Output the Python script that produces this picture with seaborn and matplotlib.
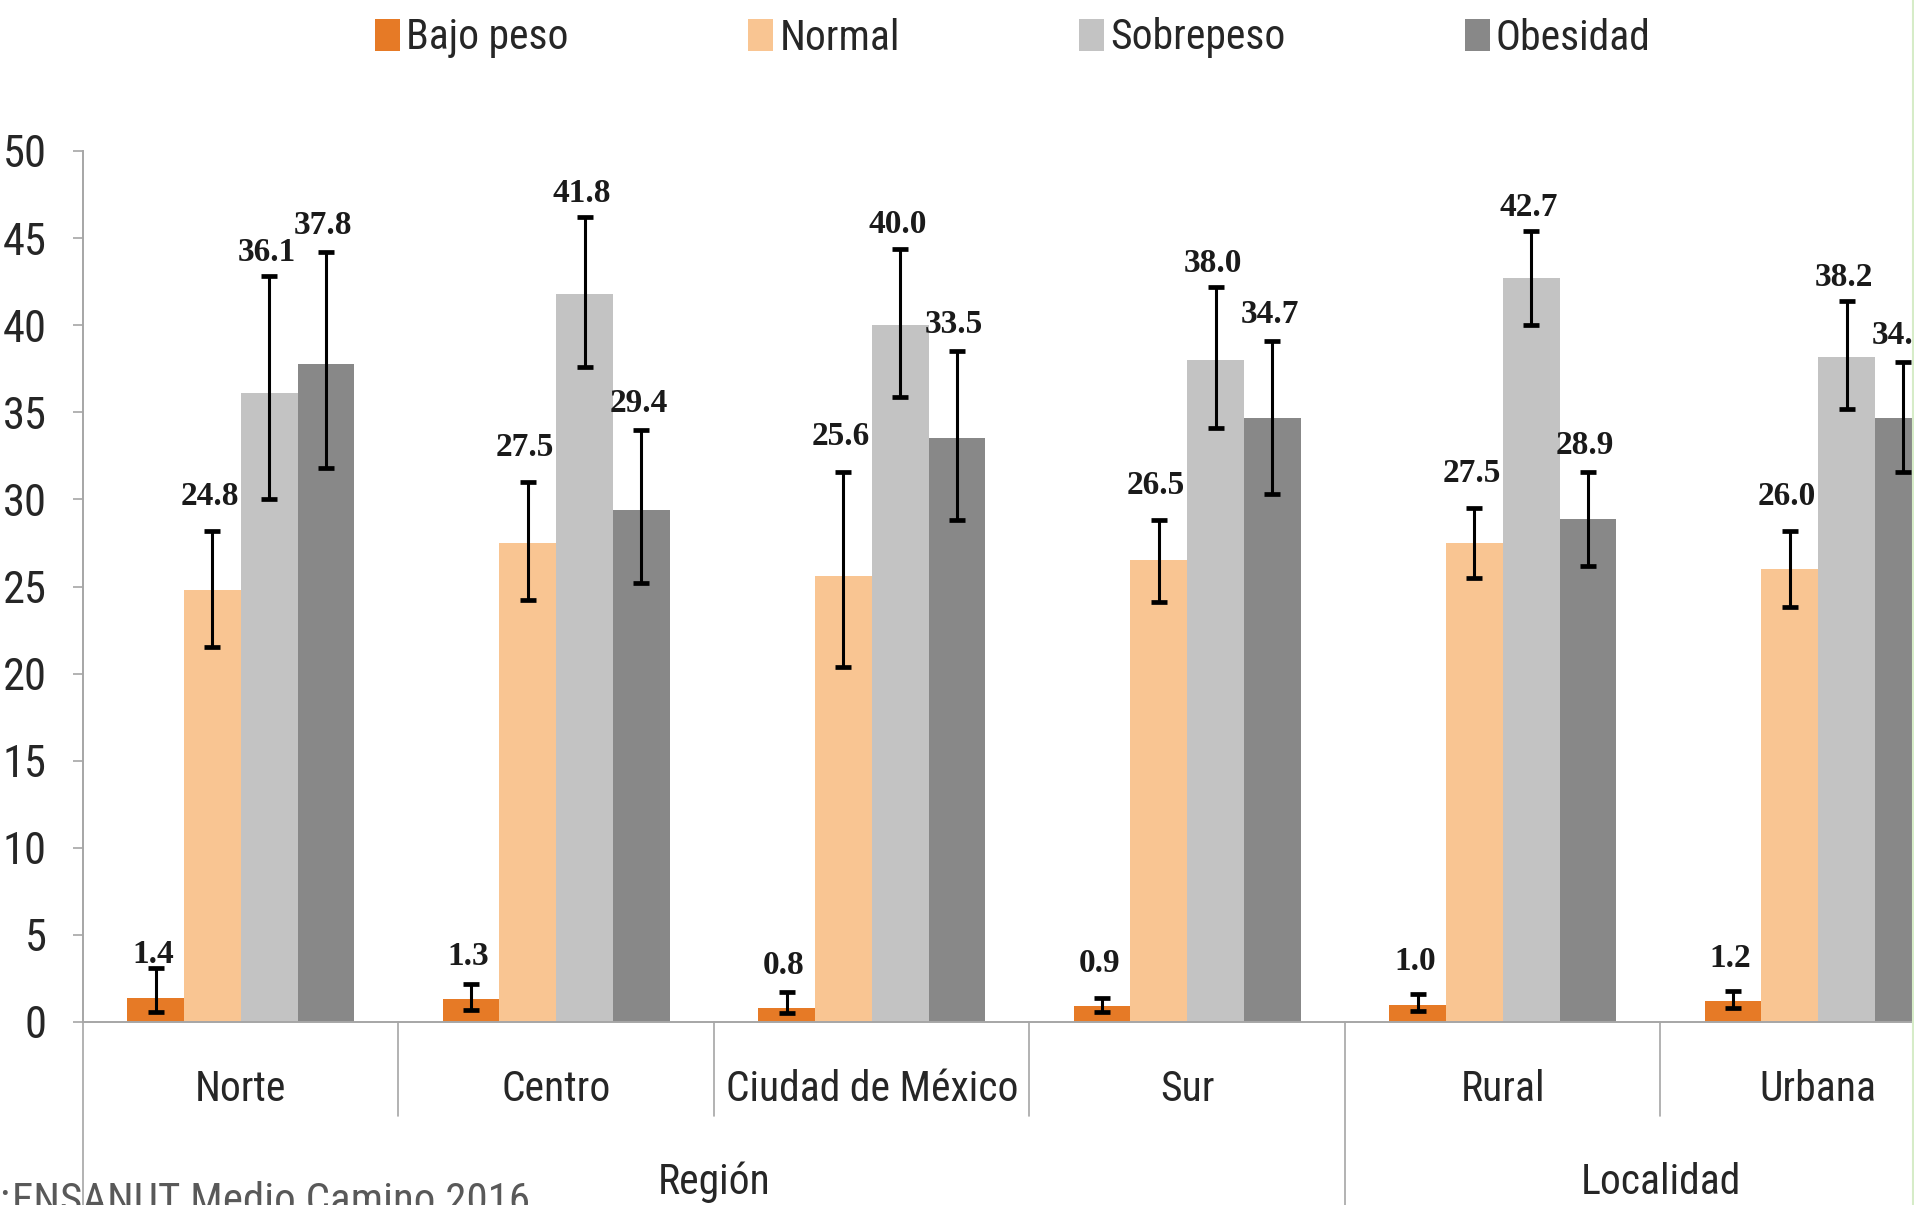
import matplotlib
matplotlib.use("Agg")
import matplotlib.pyplot as plt
import matplotlib.transforms as mtransforms
from matplotlib import font_manager as fm
from matplotlib.lines import Line2D
from matplotlib.patches import Patch
import seaborn as sns
import pandas as pd
import numpy as np

# ---------------- data ----------------
categories = ["Norte", "Centro", "Ciudad de México", "Sur", "Rural", "Urbana"]
series = ["Bajo peso", "Normal", "Sobrepeso", "Obesidad"]

bajo = [1.4, 1.3, 0.8, 0.9, 1.0, 1.2]
normal = [24.8, 27.5, 25.6, 26.5, 27.5, 26.0]
sobre = [36.1, 41.8, 40.0, 38.0, 42.7, 38.2]
obes = [37.8, 29.4, 33.5, 34.7, 28.9, 34.7]

bajo_lo = [0.6, 0.7, 0.5, 0.55, 0.65, 0.8]
bajo_hi = [3.1, 2.2, 1.75, 1.4, 1.6, 1.8]
normal_lo = [21.5, 24.2, 20.4, 24.1, 25.5, 23.8]
normal_hi = [28.2, 31.0, 31.6, 28.8, 29.5, 28.2]
sobre_lo = [30.0, 37.6, 35.9, 34.1, 40.0, 35.2]
sobre_hi = [42.8, 46.2, 44.4, 42.2, 45.4, 41.4]
obes_lo = [31.8, 25.2, 28.8, 30.3, 26.2, 31.6]
obes_hi = [44.2, 34.0, 38.5, 39.1, 31.6, 37.9]

groups = ["Región", "Localidad"]
source = "ENSANUT Medio Camino 2016"

values = [bajo, normal, sobre, obes]
lows = [bajo_lo, normal_lo, sobre_lo, obes_lo]
highs = [bajo_hi, normal_hi, sobre_hi, obes_hi]
colors = ["#E67A26", "#F9C592", "#C3C3C3", "#888888"]
label_offsets = [31, 25, 17, 19]   # points above bar (Bajo peso) / above upper CI

# ---------------- style ----------------
sns.set_theme(style="white")
entries = fm.fontManager.ttflist
names = {f.name for f in entries}


def pick_font():
    for nm in ["Liberation Sans Narrow", "Roboto Condensed", "Open Sans Condensed",
               "Noto Sans Condensed", "DejaVu Sans Condensed", "Lato Condensed"]:
        if nm in names:
            return nm, "normal", 1.0
    for fam in ["Noto Sans", "Open Sans", "Roboto", "DejaVu Sans"]:
        for f in entries:
            if f.name == fam and str(f.stretch) in ("condensed", "semi-condensed",
                                                    "extra-condensed"):
                return fam, str(f.stretch), 1.0
    return "Liberation Sans", "normal", 0.88


SANS, STRETCH, K = pick_font()
plt.rcParams["font.family"] = [SANS, "DejaVu Sans"]
plt.rcParams["font.stretch"] = STRETCH
TXT = "#262626"
AXC = "#a6a6a6"

df = pd.DataFrame({
    "Categoria": [c for _ in series for c in categories],
    "Serie": [s for s in series for _ in categories],
    "Valor": [v for vals in values for v in vals],
})

fig = plt.figure(figsize=(19.15, 12.05), dpi=100)
ax = fig.add_axes([83 / 1915, 1 - 1022 / 1205, (1976 - 83) / 1915, 871 / 1205])

sns.barplot(data=df, x="Categoria", y="Valor", hue="Serie", order=categories,
            hue_order=series, palette=colors, saturation=1, width=0.72,
            errorbar=None, legend=False, ax=ax, zorder=2, linewidth=0)

ax.set_xlim(-0.5, 5.5)
ax.set_ylim(0, 50)
ax.set_yticks(np.arange(0, 51, 5))
ax.set_xlabel("")
ax.set_ylabel("")
for s in ["top", "right"]:
    ax.spines[s].set_visible(False)
for s in ["left", "bottom"]:
    ax.spines[s].set_color(AXC)
    ax.spines[s].set_linewidth(1.4)

ax.tick_params(axis="y", left=True, length=7, width=1.2, color=AXC, pad=19,
               labelsize=32 * K, labelcolor=TXT)
ax.tick_params(axis="x", bottom=False, length=0, pad=34, labelsize=30 * K, labelcolor=TXT)

# error bars and value labels
bar_conts = list(ax.containers)
for i, cont in enumerate(bar_conts):
    xs = [b.get_x() + b.get_width() / 2 for b in cont.patches]
    v = np.array(values[i])
    lo = np.array(lows[i])
    hi = np.array(highs[i])
    ax.errorbar(xs, v, yerr=[v - lo, hi - v], fmt="none", ecolor="black",
                elinewidth=2.2, capsize=6, capthick=3.4, zorder=5)
    for x, val, h in zip(xs, v, hi):
        anchor = val if i == 0 else h
        ax.annotate(f"{val:.1f}", xy=(x, anchor), xytext=(-2, label_offsets[i]),
                    textcoords="offset points", ha="center", va="center",
                    fontfamily=["Liberation Serif", "DejaVu Serif"],
                    fontweight="bold", fontsize=24, color="#1a1a1a", zorder=6)

# multi-level category axis separators
trans = mtransforms.blended_transform_factory(ax.transData, ax.transAxes)
for b in [0.5, 1.5, 2.5, 4.5]:
    ax.plot([b, b], [0, -0.108], transform=trans, color=AXC, lw=1.2, clip_on=False)
for b in [-0.5, 3.5]:
    ax.plot([b, b], [0, -0.3], transform=trans, color=AXC, lw=1.2, clip_on=False)

ax.text(1.5, -0.1837, groups[0], transform=trans, ha="center", va="center",
        fontsize=30 * K, color=TXT)
ax.text(4.5, -0.1837, groups[1], transform=trans, ha="center", va="center",
        fontsize=30 * K, color=TXT)

fig.text(12 / 1915, 1 - 1181 / 1205, source, ha="left", va="top",
         fontsize=31 * K, color="#595959")
fig.text(9 / 1915, 1 - 1181 / 1205, ":", ha="right", va="top",
         fontsize=31 * K, color="#595959")

# legend
handles = [Patch(facecolor=c, edgecolor="none") for c in colors]
fig.legend(handles, series, loc="center", bbox_to_anchor=(1013 / 1915, 1 - 38 / 1205),
           ncol=4, frameon=False, fontsize=30 * K, handlelength=0.6, handleheight=0.8,
           handletextpad=0.15, columnspacing=4.3, borderpad=0, labelcolor=TXT)

fig.add_artist(Line2D([0.9992, 0.9992], [0, 1], transform=fig.transFigure,
                      color="#d6ecc8", lw=1.5))

fig.savefig("out.png", dpi=100)
